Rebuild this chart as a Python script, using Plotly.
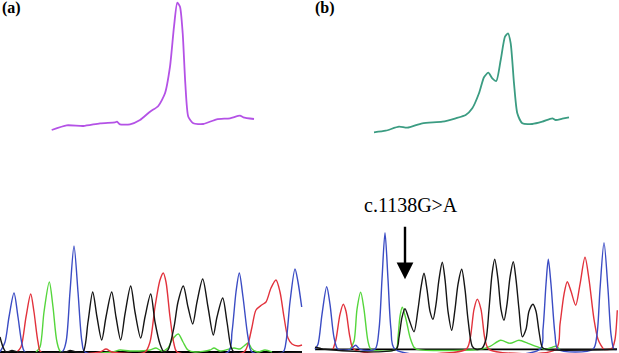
import plotly.graph_objects as go

# ---------------- Melting curves (x = temperature position, y = -dF/dT signal) ----------------
melt_a_x = [51.7, 66.7, 83.3, 100, 115, 117, 120, 130, 140, 150, 158.3, 165, 170, 174, 177.3, 180,
            182.7, 185.3, 188.3, 193.3, 203.3, 216.7, 230, 240, 243.3, 254]
melt_a_y = [10, 14.7, 14, 16.7, 17.7, 18.3, 15.7, 15.7, 20, 28.3, 34, 46.7, 73.3, 113.3, 137.3, 133.3,
            106.7, 56.7, 23.3, 16.7, 16, 20.7, 21.7, 24.3, 22.7, 21]

melt_b_x = [374, 385.7, 399, 407.3, 422.3, 442.3, 455.7, 465.7, 472.3, 479, 484, 488.3, 492.3, 496.3,
            500.7, 505, 508, 510.7, 514, 517.3, 522.3, 532.3, 542.3, 552.3, 555.7, 562.3, 569]
melt_b_y = [7.7, 9.3, 13.3, 12.3, 16.7, 18.3, 21.7, 25, 31.7, 46.7, 62.7, 67.3, 61.7, 59,
            80, 103.3, 106.7, 96.7, 56.7, 26.7, 16.7, 16, 18.3, 21.7, 20, 21.3, 22.7]

# ---------------- Chromatogram (a): wild type ----------------
a_black_x = [0, 3, 6, 12, 18, 66, 70, 76, 83, 88, 92.7, 97, 101.7, 106, 111.7, 116, 120.7, 125, 130.7,
             135, 140.7, 145, 150.7, 155, 160, 164, 168, 174, 178, 183.3, 188, 192.7, 197, 202.7, 208,
             213.3, 217, 222.7, 227, 231, 234, 302]
a_black_y = [15, 5, 0, 1.5, 0, 0, 1.5, 0, 0, 30, 60, 35, 12, 35, 60, 35, 12, 38, 66,
             40, 14, 35, 58, 30, 8, 0, 2, 25, 50, 66, 45, 28, 50, 73, 45,
             17, 35, 54, 30, 5, 0, 0]
a_blue_x = [0, 5, 9, 14, 18, 22, 25, 62, 66, 70, 74, 78, 82, 85, 228, 232, 236, 239.3, 243, 248, 252,
            283, 286, 290, 295, 298, 301.7]
a_blue_y = [0, 10, 35, 59, 35, 8, 0, 0, 10, 60, 106, 60, 10, 0, 0, 20, 60, 79, 55, 15, 0,
            0, 10, 50, 83, 70, 45]
a_red_x = [17, 21, 26, 30.7, 34, 38, 41, 100, 106, 112, 145, 150, 155, 160, 163.3, 166, 170, 174, 177,
           244, 248, 252, 256, 261.7, 266, 271, 276, 280, 284, 288, 292, 298, 302]
a_red_y = [0, 5, 35, 58, 40, 10, 0, 0, 3, 0, 0, 10, 45, 72, 79, 70, 35, 8, 0,
           0, 8, 25, 42, 47, 50, 64, 72, 60, 35, 14, 8, 6, 7]
a_green_x = [36, 40, 44, 49.3, 53, 57, 61, 112, 120, 130, 150, 156, 162, 168, 172, 178.3, 183, 188, 195,
             210, 214, 220, 234, 240, 244, 248.3, 252, 258, 265, 272]
a_green_y = [0, 5, 40, 70, 45, 10, 0, 0, 2, 1, 2, 4, 1, 4, 12, 18, 10, 2, 0,
             2, 4, 1, 4, 3, 6, 9, 3, 0, 2, 0]

# ---------------- Chromatogram (b): c.1138G>A heterozygote ----------------
b_black_x = [315, 320, 325, 396, 399, 402, 405, 409, 414, 418, 421, 424, 427, 430, 433, 436, 439, 442.3,
             445, 448, 451.7, 455, 458, 461.7, 465, 468, 472.3, 476, 482, 486, 489, 492, 494.7, 498,
             501, 504, 507, 510, 513.3, 516, 519, 522.3, 526, 529, 533, 536, 539, 542.3, 546, 617]
b_black_y = [2, 1, 0, 0, 12, 32, 40.6, 30, 17.6, 40, 62, 76, 60, 38, 30, 45, 70, 87,
             70, 38, 19, 40, 65, 80, 60, 30, 3, 0, 1, 10, 40, 75, 90, 70,
             40, 29, 45, 72, 87.6, 70, 40, 12.6, 20, 38, 45, 38, 18, 2, 0, 0]
b_blue_x = [315, 318, 322, 326.7, 330, 334, 338, 350, 355.7, 360, 375, 379, 382, 385, 388, 391, 395,
            540, 543, 546, 548.3, 551, 555, 558, 593, 597, 600, 604, 608, 611, 614, 617]
b_blue_y = [0, 5, 35, 62.6, 45, 12, 0, 0, 4, 0, 0, 20, 70, 116.7, 70, 20, 0,
            0, 20, 65, 90, 65, 15, 0, 0, 15, 60, 106.7, 60, 15, 0, 0]
b_red_x = [333, 336, 340, 343.3, 346, 350, 354, 466, 470, 474, 477.3, 481, 485, 489,
           556, 560, 564, 567.3, 571, 575.7, 580, 585, 589, 594, 598, 601, 604, 612, 615, 617.3]
b_red_y = [0, 10, 35, 45, 38, 12, 0, 0, 10, 40, 50, 40, 10, 0,
           0, 25, 55, 67.6, 58, 44, 65, 92, 70, 30, 10, 4, 0, 1, 10, 39]
b_green_x = [350, 354, 357, 360.7, 364, 368, 371, 396, 398, 400, 402.3, 406, 410, 414, 417,
             480, 490, 500.7, 510, 519, 528, 536, 545, 552, 555.7, 560]
b_green_y = [0, 8, 40, 57, 40, 8, 0, 0, 12, 33, 42, 30, 12, 2, 0,
             0, 3, 9, 6, 9, 6, 3, 0, 2, 3, 0]

baseline_a_x = [0, 302]
baseline_b_x = [315, 617]

mutation_label = "c.1138G>A"
panel_labels = ["(a)", "(b)"]

BLACK = "#151515"
BLUE = "#3b4cc4"
RED = "#e2323c"
GREEN = "#55d63c"
MAGENTA = "#b452e6"
TEAL = "#3b9c82"

fig = go.Figure()

def chrom(x, y, color, yaxis):
    fig.add_trace(go.Scatter(x=x, y=y, mode="lines", yaxis=yaxis,
                             line=dict(color=color, width=1.4, shape="spline", smoothing=0.8),
                             hoverinfo="skip", showlegend=False))

# baselines
fig.add_trace(go.Scatter(x=baseline_a_x, y=[0, 0], mode="lines", yaxis="y",
                         line=dict(color="#000", width=1.8), showlegend=False))
fig.add_trace(go.Scatter(x=baseline_b_x, y=[0, 0], mode="lines", yaxis="y2",
                         line=dict(color="#000", width=1.8), showlegend=False))

for x, y, c in [(a_green_x, a_green_y, GREEN), (a_red_x, a_red_y, RED),
                (a_blue_x, a_blue_y, BLUE), (a_black_x, a_black_y, BLACK)]:
    chrom(x, y, c, "y")
for x, y, c in [(b_green_x, b_green_y, GREEN), (b_red_x, b_red_y, RED),
                (b_blue_x, b_blue_y, BLUE), (b_black_x, b_black_y, BLACK)]:
    chrom(x, y, c, "y2")

fig.add_trace(go.Scatter(x=melt_a_x, y=melt_a_y, mode="lines", yaxis="y3",
                         line=dict(color=MAGENTA, width=1.8, shape="spline", smoothing=0.6),
                         showlegend=False))
fig.add_trace(go.Scatter(x=melt_b_x, y=melt_b_y, mode="lines", yaxis="y3",
                         line=dict(color=TEAL, width=1.8, shape="spline", smoothing=0.6),
                         showlegend=False))

hidden = dict(visible=False, showgrid=False, zeroline=False, fixedrange=True)
fig.update_layout(
    width=619, height=353,
    margin=dict(l=0, r=0, t=0, b=0),
    paper_bgcolor="white", plot_bgcolor="white",
    xaxis=dict(range=[0, 619], domain=[0, 1], **hidden),
    yaxis=dict(range=[-1, 352], domain=[0, 1], **hidden),
    yaxis2=dict(range=[-3.7, 349.3], domain=[0, 1], overlaying="y", **hidden),
    yaxis3=dict(range=[-213, 140], domain=[0, 1], overlaying="y", **hidden),
    showlegend=False,
)

# mutation arrow
fig.add_annotation(x=405, y=70, xref="x", yref="y2", ax=405, ay=124, axref="x", ayref="y2",
                   text="", showarrow=True, arrowhead=2, arrowsize=1.4, arrowwidth=2.4,
                   arrowcolor="#000")
fig.add_annotation(x=410.5, y=144.3, xref="x", yref="y2", text=mutation_label, showarrow=False,
                   font=dict(family="Liberation Serif", size=20, color="#000"))

# panel labels
fig.add_annotation(x=0, y=1, xref="paper", yref="paper", xanchor="left", yanchor="top",
                   text="<b>" + panel_labels[0] + "</b>", showarrow=False,
                   font=dict(family="Liberation Serif", size=16, color="#000"), yshift=3)
fig.add_annotation(x=313, y=1, xref="x", yref="paper", xanchor="left", yanchor="top",
                   text="<b>" + panel_labels[1] + "</b>", showarrow=False,
                   font=dict(family="Liberation Serif", size=16, color="#000"), yshift=3)

fig.write_html("out.html", config={"displayModeBar": False},
               post_script="document.body.style.margin='0';document.body.style.overflow='hidden';")
